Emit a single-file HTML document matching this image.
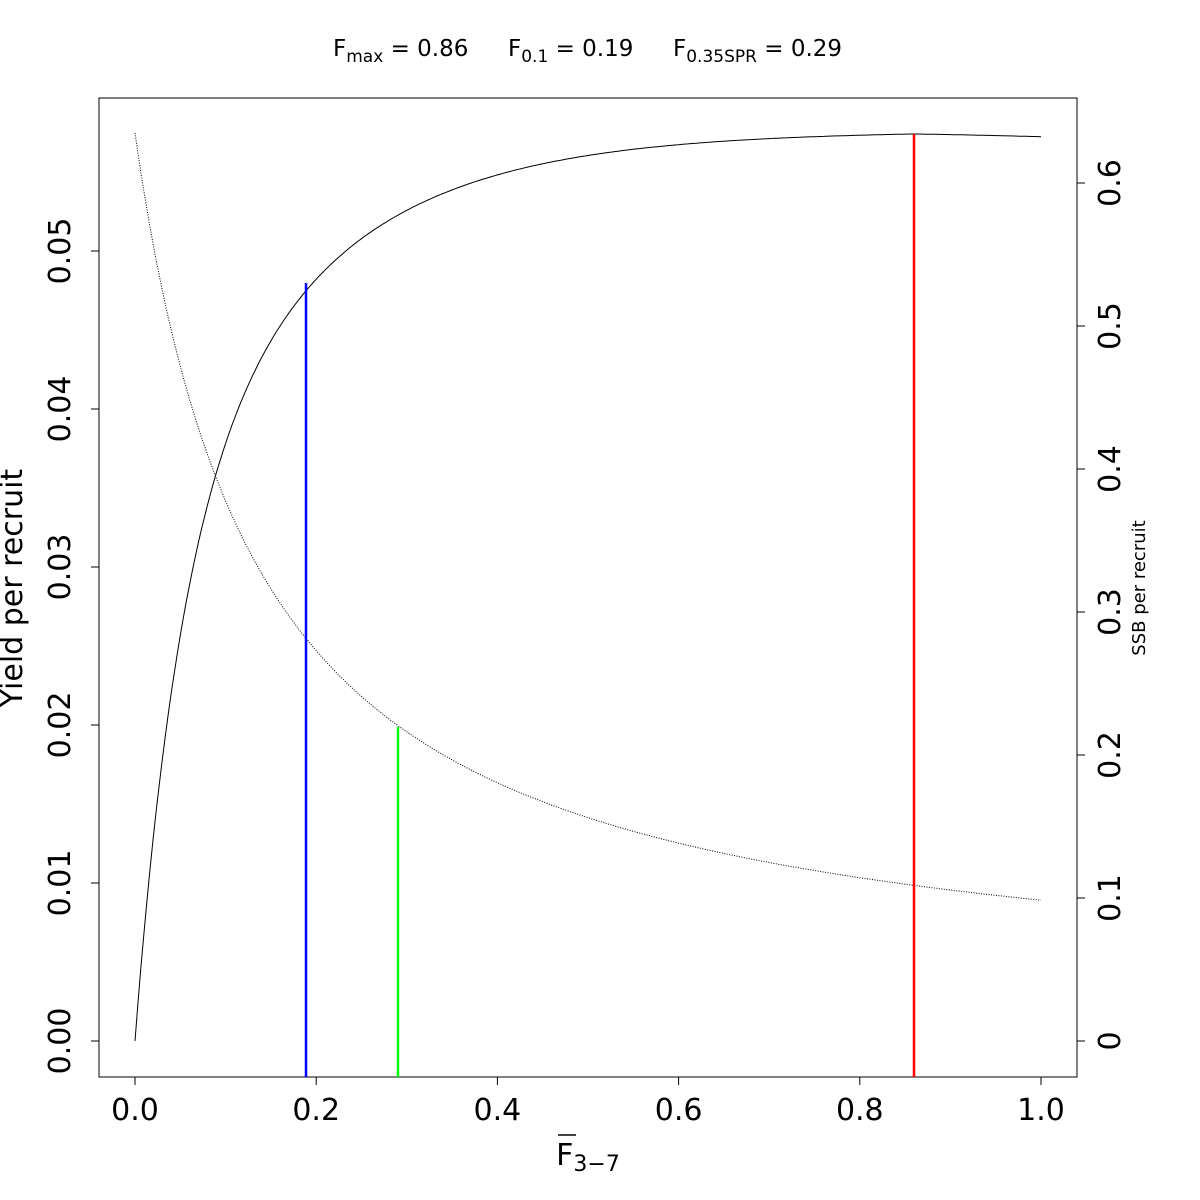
<!DOCTYPE html>
<html><head><meta charset="utf-8"><style>body{margin:0;background:#fff}svg{display:block;font-family:"DejaVu Sans","Liberation Sans",sans-serif}</style></head>
<body>
<svg id="s" width="1200" height="1200" viewBox="0 0 1200 1200">
<rect width="1200" height="1200" fill="#fff"/>
<rect x="99" y="98" width="978" height="979" fill="none" stroke="#000" stroke-width="1"/>
<text x="333" y="56" font-size="23">F<tspan font-size="17" dy="6">max</tspan><tspan dy="-6"> = 0.86</tspan></text>
<text x="508" y="56" font-size="23">F<tspan font-size="17" dy="6">0.1</tspan><tspan dy="-6"> = 0.19</tspan></text>
<text x="673" y="56" font-size="23">F<tspan font-size="17" dy="6">0.35SPR</tspan><tspan dy="-6"> = 0.29</tspan></text>
<g id="g" stroke="#000" stroke-width="1"></g>
<path id="y" fill="none" stroke="#000" stroke-width="1"/>
<path id="ssb" fill="none" stroke="#000" stroke-width="1" stroke-dasharray="1,1.5"/>
<line x1="306" y1="283" x2="306" y2="1077" stroke="#00f" stroke-width="2.5"/>
<line x1="398" y1="727" x2="398" y2="1077" stroke="#0f0" stroke-width="2.5"/>
<line x1="914" y1="134" x2="914" y2="1077" stroke="#f00" stroke-width="2.5"/>
<text x="588" y="1165" font-size="30" text-anchor="middle">F<tspan font-size="22" dy="6">3−7</tspan></text>
<line x1="558" y1="1135" x2="576" y2="1135" stroke="#000" stroke-width="1.5"/>
<text transform="translate(22,588) rotate(-90)" font-size="30" text-anchor="middle">Yield per recruit</text>
<text transform="translate(1145,588) rotate(-90)" font-size="18" text-anchor="middle">SSB per recruit</text>
</svg>
<script>
var ns="http://www.w3.org/2000/svg",g=document.getElementById('g'),s=document.getElementById('s');
function ln(a,b,c,d){var l=document.createElementNS(ns,'line');l.setAttribute('x1',a);l.setAttribute('y1',b);l.setAttribute('x2',c);l.setAttribute('y2',d);g.appendChild(l);}
function tx(t,x,y,rot){var e=document.createElementNS(ns,'text');e.textContent=t;e.setAttribute('font-size','30');e.setAttribute('text-anchor','middle');
if(rot)e.setAttribute('transform','translate('+x+','+y+') rotate(-90)');else{e.setAttribute('x',x);e.setAttribute('y',y);}s.appendChild(e);}
for(var i=0;i<=5;i++){var x=135+181.2*i;ln(x,1077,x,1085);tx((i*0.2).toFixed(1),x,1120,0);}
for(var i=0;i<=5;i++){var y=1041-158*i;ln(91,y,99,y);tx((i*0.01).toFixed(2),70,y,1);}
var rl=['0','0.1','0.2','0.3','0.4','0.5','0.6'];
for(var i=0;i<=6;i++){var y=1041-143*i;ln(1077,y,1085,y);tx(rl[i],1120,y,1);}
var p1='',p2='';
for(var k=0;k<=300;k++){var F=k/300,x=135+906*F;
var Y=0.0576*(1-0.49*Math.exp(-5.8*F)-0.51*Math.exp(-20*F))-0.0004*Math.max(0,F-0.86)*5;
var S=0.61/(1+7.3*F)+0.025;
p1+=(k?'L':'M')+x.toFixed(1)+','+(1041-15800*Y).toFixed(1);
p2+=(k?'L':'M')+x.toFixed(1)+','+(1041-1430*S).toFixed(1);}
document.getElementById('y').setAttribute('d',p1);document.getElementById('ssb').setAttribute('d',p2);
</script>
</body></html>
